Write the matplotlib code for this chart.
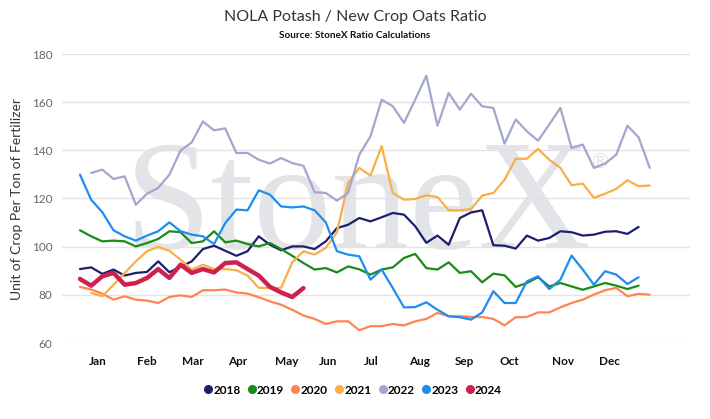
import matplotlib.pyplot as plt

plt.rcParams['font.family'] = ['Lato', 'DejaVu Sans']

# weekly ratio values, week index 0 = first week of the year
weeks_2018 = list(range(0, 51))
vals_2018 = [90.7, 91.4, 88.7, 90.5, 88.0, 89.1, 89.5, 93.9, 89.4, 91.6,
             93.9, 99.0, 100.4, 98.3, 96.2, 98.1, 104.3, 100.8, 98.5, 100.1,
             100.1, 99.0, 102.2, 107.7, 109.1, 111.9, 110.5, 112.2, 114.0, 113.3,
             108.5, 101.6, 104.6, 100.8, 111.9, 114.2, 115.1, 100.6, 100.4, 99.2,
             104.6, 102.5, 103.6, 106.4, 106.0, 104.6, 105.0, 106.2, 106.4, 105.3,
             108.2]

weeks_2019 = list(range(0, 51))
vals_2019 = [106.8, 104.3, 102.2, 102.5, 102.2, 100.1, 101.5, 103.2, 106.4, 106.0,
             101.5, 102.2, 106.4, 101.8, 102.5, 101.1, 100.1, 101.5, 99.0, 96.2,
             93.2, 90.5, 91.1, 89.3, 91.8, 90.6, 88.4, 90.5, 91.4, 95.3,
             97.0, 91.1, 90.5, 93.5, 89.1, 89.8, 85.2, 88.8, 88.1, 83.3,
             84.9, 87.3, 83.5, 84.9, 83.5, 82.1, 83.5, 84.9, 83.8, 82.4,
             83.8]

weeks_2020 = list(range(0, 52))
vals_2020 = [83.3, 82.2, 80.5, 78.0, 79.4, 78.0, 77.6, 76.6, 79.1, 79.8,
             79.1, 81.9, 81.9, 82.2, 81.0, 80.5, 79.0, 77.3, 75.9, 73.8,
             71.4, 70.0, 67.9, 69.0, 69.0, 65.3, 67.0, 67.0, 67.9, 67.3,
             69.0, 70.0, 72.5, 71.1, 71.1, 70.8, 70.8, 70.0, 67.3, 70.7,
             70.8, 72.7, 72.7, 74.8, 76.6, 78.0, 80.1, 81.9, 82.9, 79.4,
             80.4, 80.1]

weeks_2021 = list(range(1, 52))
vals_2021 = [80.8, 79.4, 84.2, 89.1, 93.9, 98.1, 99.9, 98.3, 94.6, 90.5,
             92.5, 90.7, 90.7, 90.2, 88.0, 82.9, 82.9, 82.9, 93.5, 98.1,
             96.7, 99.5, 106.0, 126.4, 132.7, 129.5, 141.7, 122.3, 119.5, 119.8,
             121.3, 120.6, 115.1, 115.1, 115.6, 121.2, 122.3, 127.8, 136.5, 136.5,
             140.6, 136.1, 132.7, 125.5, 126.2, 120.3, 122.0, 124.0, 127.6, 125.1,
             125.4]

weeks_2022 = list(range(1, 52))
vals_2022 = [130.6, 132.0, 128.1, 129.2, 117.4, 122.0, 124.4, 129.9, 139.9, 143.3,
             152.0, 148.3, 149.1, 138.9, 138.9, 136.1, 134.5, 136.8, 134.7, 133.6,
             122.6, 122.3, 119.1, 122.3, 138.2, 145.8, 161.0, 158.3, 151.4, 161.0,
             171.0, 150.2, 163.8, 156.9, 163.5, 158.3, 157.6, 142.8, 152.8, 147.9,
             144.0, 150.7, 157.6, 141.0, 142.4, 132.7, 134.5, 138.2, 150.2, 145.4,
             132.7]

weeks_2023 = list(range(0, 51))
vals_2023 = [129.9, 119.5, 114.3, 106.8, 104.3, 102.5, 104.6, 106.4, 110.1, 106.4,
             105.0, 104.3, 101.1, 109.8, 115.4, 115.1, 123.4, 121.6, 116.7, 116.3,
             116.7, 115.1, 110.1, 98.1, 96.7, 96.0, 86.3, 90.5, 82.8, 74.8,
             74.9, 76.9, 73.8, 71.1, 70.7, 69.7, 72.7, 81.5, 76.6, 76.6,
             85.6, 87.7, 82.4, 86.3, 96.3, 90.5, 84.2, 89.8, 88.4, 84.5,
             87.3]

weeks_2024 = list(range(0, 21))
vals_2024 = [86.6, 83.8, 87.7, 89.1, 84.2, 84.9, 87.0, 90.7, 87.0, 92.5,
             89.1, 90.7, 89.3, 93.2, 93.5, 90.7, 88.0, 83.3, 81.0, 79.1,
             82.8]

month_labels = ['Jan', 'Feb', 'Mar', 'Apr', 'May', 'Jun',
                'Jul', 'Aug', 'Sep', 'Oct', 'Nov', 'Dec']
month_pos = [1.6, 6.0, 10.1, 14.1, 18.5, 22.2, 26.1, 30.4, 34.4, 38.4, 43.2, 47.4]

series = [
    ('2018', weeks_2018, vals_2018, '#1b1f6e', 1.6),
    ('2019', weeks_2019, vals_2019, '#178c17', 1.6),
    ('2020', weeks_2020, vals_2020, '#ff8452', 1.6),
    ('2021', weeks_2021, vals_2021, '#f9ae48', 1.6),
    ('2022', weeks_2022, vals_2022, '#a3a6cf', 1.6),
    ('2023', weeks_2023, vals_2023, '#1f8cf0', 1.6),
    ('2024', weeks_2024, vals_2024, '#cf2150', 3.2),
]

fig = plt.figure(figsize=(7.1, 4.19), dpi=100)
ax = fig.add_axes([62 / 710, 1 - 343 / 419, 628 / 710, 289 / 419])

# watermark
ax.text(4.0, 99.5, 'StoneX', fontsize=112, family='Liberation Serif',
        color='#e3e4e7', ha='left', va='baseline', zorder=0)
ax.text(45.6, 135, '\u00ae', fontsize=15, family='DejaVu Sans',
        color='#e3e4e7', ha='left', va='center', zorder=0)

for name, x, y, c, lw in series:
    ax.plot(x, y, color=c, linewidth=lw, label=name, zorder=3,
            solid_joinstyle='round', solid_capstyle='round')

ax.set_xlim(-1.61, 54.6)
ax.set_ylim(60, 180)
ax.set_yticks(range(60, 181, 20))
ax.set_xticks(month_pos)
ax.set_xticklabels(month_labels, fontweight='bold', fontsize=8.5, color='#111111')
ax.tick_params(axis='x', length=0, pad=9)
ax.tick_params(axis='y', length=0, pad=7, labelsize=8.5, labelcolor='#666666')
for s in ax.spines.values():
    s.set_visible(False)
ax.grid(axis='y', color='#e3e3e3', linewidth=1)
ax.set_axisbelow(True)

ax.set_ylabel('Unit of Crop Per Ton of Fertilizer', fontsize=10, color='#333333',
              labelpad=6)

fig.text(0.5, 1 - 17 / 419, 'NOLA Potash / New Crop Oats Ratio', ha='center',
         va='center', fontsize=11.5, color='#333333')
fig.text(0.5, 1 - 35 / 419, 'Source: StoneX Ratio Calculations', ha='center',
         va='center', fontsize=7.2, fontweight='bold', color='#111111')

handles = [plt.Line2D([], [], marker='o', linestyle='none', color=c,
                      markersize=5.5) for _, _, _, c, _ in series]
fig.legend(handles, [s[0] for s in series], loc='center',
           bbox_to_anchor=(0.497, 1 - 390 / 419), ncol=7, frameon=False,
           handlelength=0.7, handletextpad=0.1, columnspacing=0.6,
           prop={'weight': 'bold', 'size': 8.5})

plt.savefig('out.png', dpi=100)
